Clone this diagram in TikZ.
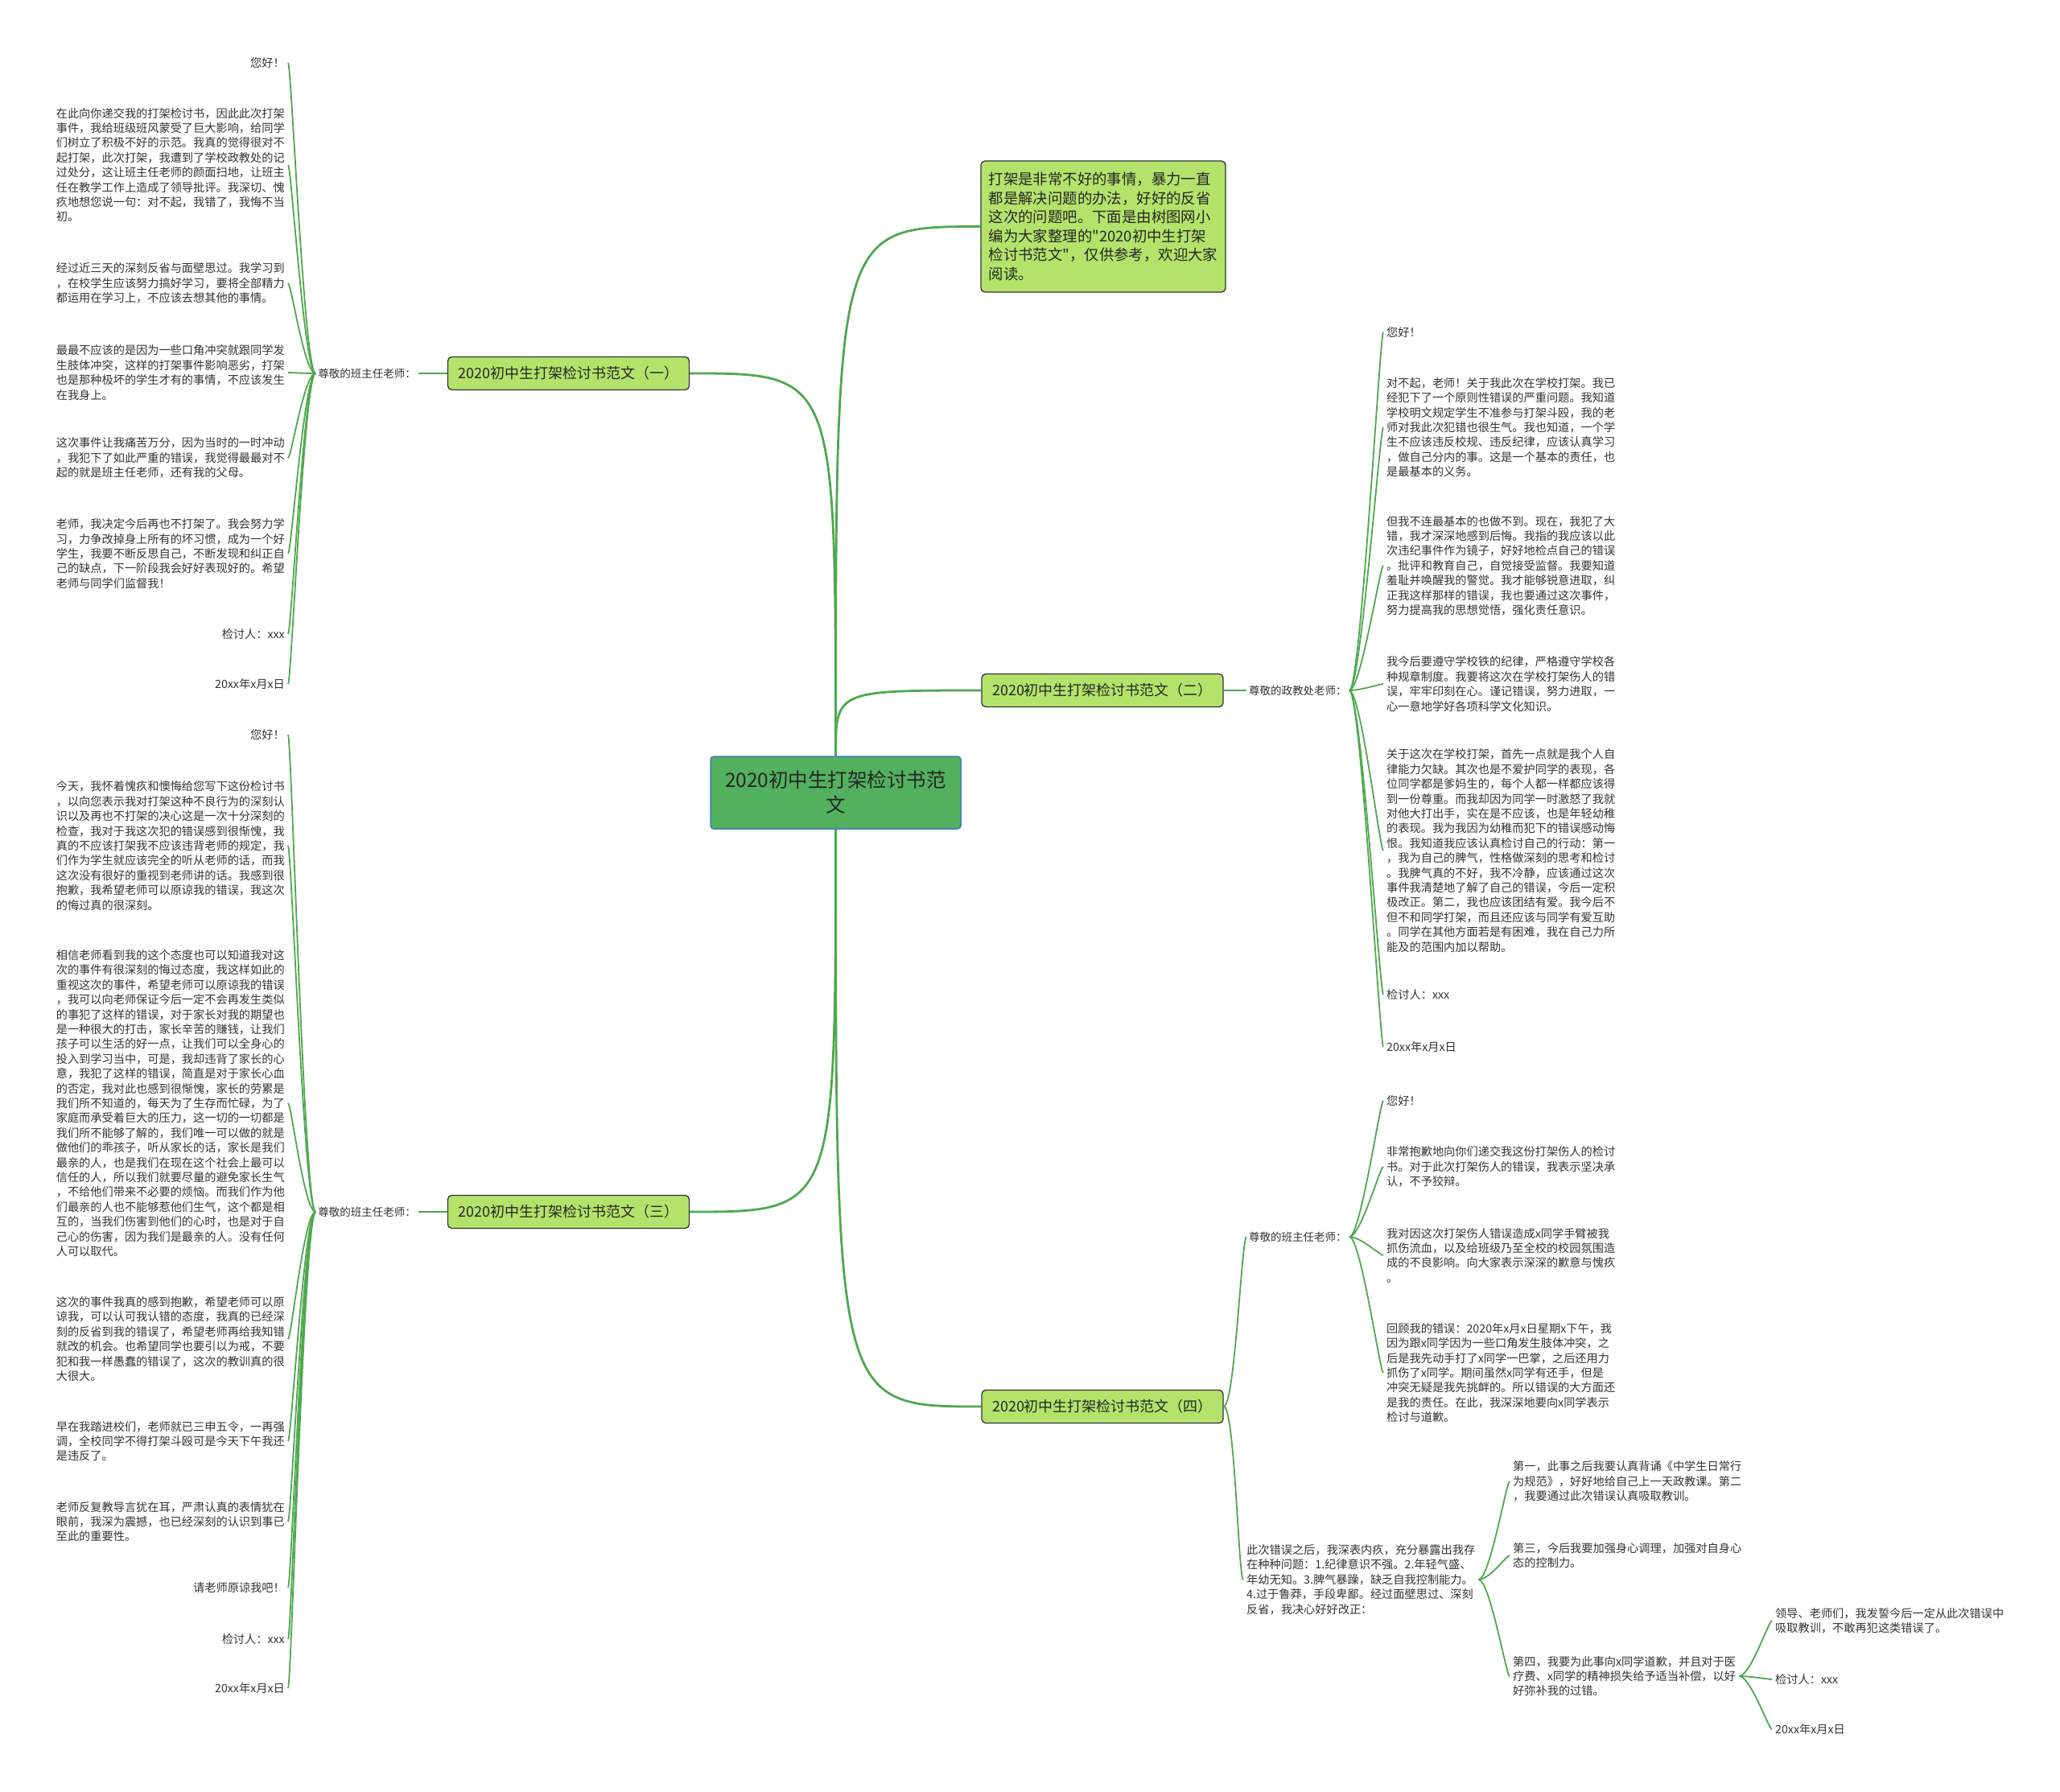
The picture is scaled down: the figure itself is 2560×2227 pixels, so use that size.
\documentclass[tikz,border=0pt]{standalone}
\usepackage{fontspec}
\setmainfont{Noto Sans CJK SC}[Ligatures=TeXOff]
\definecolor{twiggreen}{HTML}{4FA84F}
\definecolor{rootfill}{HTML}{52B05E}
\definecolor{rootline}{HTML}{3D7EC0}
\definecolor{leaffill}{HTML}{B4E36B}
\definecolor{inktext}{HTML}{333333}

\begin{document}
\begin{tikzpicture}[x=1pt,y=-1pt,
  root/.style={draw=rootline,line width=1.5pt,fill=rootfill,rounded corners=4pt,
    minimum width=311pt,minimum height=90pt,align=center,text=black!85,
    font=\fontsize{24.5}{31}\selectfont},
  topic/.style={draw=black!80,line width=1.3pt,fill=leaffill,rounded corners=5pt,
    minimum width=300pt,minimum height=41pt,text=black!85,
    font=\fontsize{18}{22}\selectfont},
  note/.style={draw=black!80,line width=1.3pt,fill=leaffill,rounded corners=5pt,
    minimum width=304pt,minimum height=163pt,align=left,text=black!85,
    font=\fontsize{18.4}{23.6}\selectfont},
  tag/.style={inner sep=3pt,text=inktext,font=\fontsize{13.5}{17}\selectfont},
  leaf/.style={inner xsep=4pt,inner ysep=2pt,align=left,text=inktext,
    font=\fontsize{14.2}{18.4}\selectfont},
  bough/.style={draw=twiggreen,line width=2.8pt},
  twig/.style={draw=twiggreen,line width=1.8pt}]
\fill[white] (0,0) rectangle (2560,2227);
\useasboundingbox (0,0) rectangle (2560,2227);

% 中心与四个分支
\node[root] (ctr) at (1038.5,985) {2020初中生打架检讨书范\\文};
\node[note] (intro) at (1371,281.5) {打架是非常不好的事情，暴力一直\\都是解决问题的办法，好好的反省\\这次的问题吧。下面是由树图网小\\编为大家整理的"2020初中生打架\\检讨书范文"，仅供参考，欢迎大家\\阅读。};
\node[topic] (b1) at (706.5,464) {2020初中生打架检讨书范文（一）};
\node[topic] (b2) at (1370,858) {2020初中生打架检讨书范文（二）};
\node[topic] (b3) at (706.5,1506) {2020初中生打架检讨书范文（三）};
\node[topic] (b4) at (1370,1748) {2020初中生打架检讨书范文（四）};

\draw[bough] (ctr.north) .. controls (ctr.north |- intro.west) .. (intro.west);
\draw[bough] (ctr.north) .. controls (ctr.north |- b1.east) .. (b1.east);
\draw[bough] (ctr.north) .. controls (ctr.north |- b2.west) .. (b2.west);
\draw[bough] (ctr.south) .. controls (ctr.south |- b3.east) .. (b3.east);
\draw[bough] (ctr.south) .. controls (ctr.south |- b4.west) .. (b4.west);

% 范文（一）
\node[tag,anchor=east] (l1) at (520,464) {尊敬的班主任老师：};
\node[leaf,anchor=east] (a1) at (358,78) {您好！};
\node[leaf,anchor=east] (a2) at (358,205) {在此向你递交我的打架检讨书，因此此次打架\\事件，我给班级班风蒙受了巨大影响，给同学\\们树立了积极不好的示范。我真的觉得很对不\\起打架，此次打架，我遭到了学校政教处的记\\过处分，这让班主任老师的颜面扫地，让班主\\任在教学工作上造成了领导批评。我深切、愧\\疚地想您说一句：对不起，我错了，我悔不当\\初。};
\node[leaf,anchor=east] (a3) at (358,352) {经过近三天的深刻反省与面壁思过。我学习到\\，在校学生应该努力搞好学习，要将全部精力\\都运用在学习上，不应该去想其他的事情。};
\node[leaf,anchor=east] (a4) at (358,463) {最最不应该的是因为一些口角冲突就跟同学发\\生肢体冲突，这样的打架事件影响恶劣，打架\\也是那种极坏的学生才有的事情，不应该发生\\在我身上。};
\node[leaf,anchor=east] (a5) at (358,569) {这次事件让我痛苦万分，因为当时的一时冲动\\，我犯下了如此严重的错误，我觉得最最对不\\起的就是班主任老师，还有我的父母。};
\node[leaf,anchor=east] (a6) at (358,688) {老师，我决定今后再也不打架了。我会努力学\\习，力争改掉身上所有的坏习惯，成为一个好\\学生，我要不断反思自己，不断发现和纠正自\\己的缺点，下一阶段我会好好表现好的。希望\\老师与同学们监督我！};
\node[leaf,anchor=east] (a7) at (358,788) {检讨人：xxx};
\node[leaf,anchor=east] (a8) at (358,850) {20xx年x月x日};
\draw[twig] (b1.west) -- (l1.east);
\foreach \n in {a1,a2,a3,a4,a5,a6,a7,a8}
  \draw[twig] (l1.west) .. controls +(-14,0) and +(4,0) .. (\n.east);

% 范文（二）
\node[tag,anchor=west] (l2) at (1549,858) {尊敬的政教处老师：};
\node[leaf,anchor=west] (d1) at (1719,413) {您好！};
\node[leaf,anchor=west] (d2) at (1719,531) {对不起，老师！关于我此次在学校打架。我已\\经犯下了一个原则性错误的严重问题。我知道\\学校明文规定学生不准参与打架斗殴，我的老\\师对我此次犯错也很生气。我也知道，一个学\\生不应该违反校规、违反纪律，应该认真学习\\，做自己分内的事。这是一个基本的责任，也\\是最基本的义务。};
\node[leaf,anchor=west] (d3) at (1719,703) {但我不连最基本的也做不到。现在，我犯了大\\错，我才深深地感到后悔。我指的我应该以此\\次违纪事件作为镜子，好好地检点自己的错误\\。批评和教育自己，自觉接受监督。我要知道\\羞耻并唤醒我的警觉。我才能够锐意进取，纠\\正我这样那样的错误，我也要通过这次事件，\\努力提高我的思想觉悟，强化责任意识。};
\node[leaf,anchor=west] (d4) at (1719,850) {我今后要遵守学校铁的纪律，严格遵守学校各\\种规章制度。我要将这次在学校打架伤人的错\\误，牢牢印刻在心。谨记错误，努力进取，一\\心一意地学好各项科学文化知识。};
\node[leaf,anchor=west] (d5) at (1719,1057) {关于这次在学校打架，首先一点就是我个人自\\律能力欠缺。其次也是不爱护同学的表现，各\\位同学都是爹妈生的，每个人都一样都应该得\\到一份尊重。而我却因为同学一时激怒了我就\\对他大打出手，实在是不应该，也是年轻幼稚\\的表现。我为我因为幼稚而犯下的错误感动悔\\恨。我知道我应该认真检讨自己的行动：第一\\，我为自己的脾气，性格做深刻的思考和检讨\\。我脾气真的不好，我不冷静，应该通过这次\\事件我清楚地了解了自己的错误，今后一定积\\极改正。第二，我也应该团结有爱。我今后不\\但不和同学打架，而且还应该与同学有爱互助\\。同学在其他方面若是有困难，我在自己力所\\能及的范围内加以帮助。};
\node[leaf,anchor=west] (d6) at (1719,1236) {检讨人：xxx};
\node[leaf,anchor=west] (d7) at (1719,1301) {20xx年x月x日};
\draw[twig] (b2.east) -- (l2.west);
\foreach \n in {d1,d2,d3,d4,d5,d6,d7}
  \draw[twig] (l2.east) .. controls +(14,0) and +(-4,0) .. (\n.west);

% 范文（三）
\node[tag,anchor=east] (l3) at (520,1506) {尊敬的班主任老师：};
\node[leaf,anchor=east] (c1) at (358,913) {您好！};
\node[leaf,anchor=east] (c2) at (358,1051) {今天，我怀着愧疚和懊悔给您写下这份检讨书\\，以向您表示我对打架这种不良行为的深刻认\\识以及再也不打架的决心这是一次十分深刻的\\检查，我对于我这次犯的错误感到很惭愧，我\\真的不应该打架我不应该违背老师的规定，我\\们作为学生就应该完全的听从老师的话，而我\\这次没有很好的重视到老师讲的话。我感到很\\抱歉，我希望老师可以原谅我的错误，我这次\\的悔过真的很深刻。};
\node[leaf,anchor=east] (c3) at (358,1371) {相信老师看到我的这个态度也可以知道我对这\\次的事件有很深刻的悔过态度，我这样如此的\\重视这次的事件，希望老师可以原谅我的错误\\，我可以向老师保证今后一定不会再发生类似\\的事犯了这样的错误，对于家长对我的期望也\\是一种很大的打击，家长辛苦的赚钱，让我们\\孩子可以生活的好一点，让我们可以全身心的\\投入到学习当中，可是，我却违背了家长的心\\意，我犯了这样的错误，简直是对于家长心血\\的否定，我对此也感到很惭愧，家长的劳累是\\我们所不知道的，每天为了生存而忙碌，为了\\家庭而承受着巨大的压力，这一切的一切都是\\我们所不能够了解的，我们唯一可以做的就是\\做他们的乖孩子，听从家长的话，家长是我们\\最亲的人，也是我们在现在这个社会上最可以\\信任的人，所以我们就要尽量的避免家长生气\\，不给他们带来不必要的烦恼。而我们作为他\\们最亲的人也不能够惹他们生气，这个都是相\\互的，当我们伤害到他们的心时，也是对于自\\己心的伤害，因为我们是最亲的人。没有任何\\人可以取代。};
\node[leaf,anchor=east] (c4) at (358,1664) {这次的事件我真的感到抱歉，希望老师可以原\\谅我，可以认可我认错的态度，我真的已经深\\刻的反省到我的错误了，希望老师再给我知错\\就改的机会。也希望同学也要引以为戒，不要\\犯和我一样愚蠢的错误了，这次的教训真的很\\大很大。};
\node[leaf,anchor=east] (c5) at (358,1791) {早在我踏进校们，老师就已三申五令，一再强\\调，全校同学不得打架斗殴可是今天下午我还\\是违反了。};
\node[leaf,anchor=east] (c6) at (358,1891) {老师反复教导言犹在耳，严肃认真的表情犹在\\眼前，我深为震撼，也已经深刻的认识到事已\\至此的重要性。};
\node[leaf,anchor=east] (c7) at (358,1973) {请老师原谅我吧！};
\node[leaf,anchor=east] (c8) at (358,2037) {检讨人：xxx};
\node[leaf,anchor=east] (c9) at (358,2098) {20xx年x月x日};
\draw[twig] (b3.west) -- (l3.east);
\foreach \n in {c1,c2,c3,c4,c5,c6,c7,c8,c9}
  \draw[twig] (l3.west) .. controls +(-14,0) and +(4,0) .. (\n.east);

% 范文（四）
\node[tag,anchor=west] (l4a) at (1549,1537) {尊敬的班主任老师：};
\node[leaf,anchor=west] (l4b) at (1545,1963) {此次错误之后，我深表内疚，充分暴露出我存\\在种种问题：1.纪律意识不强。2.年轻气盛、\\年幼无知。3.脾气暴躁，缺乏自我控制能力。\\4.过于鲁莽，手段卑鄙。经过面壁思过、深刻\\反省，我决心好好改正：};
\node[leaf,anchor=west] (e1) at (1719,1368) {您好！};
\node[leaf,anchor=west] (e2) at (1719,1450) {非常抱歉地向你们递交我这份打架伤人的检讨\\书。对于此次打架伤人的错误，我表示坚决承\\认，不予狡辩。};
\node[leaf,anchor=west] (e3) at (1719,1560) {我对因这次打架伤人错误造成x同学手臂被我\\抓伤流血，以及给班级乃至全校的校园氛围造\\成的不良影响。向大家表示深深的歉意与愧疚\\。};
\node[leaf,anchor=west] (e4) at (1719,1706) {回顾我的错误：2020年x月x日星期x下午，我\\因为跟x同学因为一些口角发生肢体冲突，之\\后是我先动手打了x同学一巴掌，之后还用力\\抓伤了x同学。期间虽然x同学有还手，但是\\冲突无疑是我先挑衅的。所以错误的大方面还\\是我的责任。在此，我深深地要向x同学表示\\检讨与道歉。};
\node[leaf,anchor=west] (f1) at (1876,1841) {第一，此事之后我要认真背诵《中学生日常行\\为规范》，好好地给自己上一天政教课。第二\\，我要通过此次错误认真吸取教训。};
\node[leaf,anchor=west] (f2) at (1876,1933) {第三，今后我要加强身心调理，加强对自身心\\态的控制力。};
\node[leaf,anchor=west] (f3) at (1876,2083) {第四，我要为此事向x同学道歉，并且对于医\\疗费、x同学的精神损失给予适当补偿，以好\\好弥补我的过错。};
\node[leaf,anchor=west] (g1) at (2202,2014) {领导、老师们，我发誓今后一定从此次错误中\\吸取教训，不敢再犯这类错误了。};
\node[leaf,anchor=west] (g2) at (2202,2087) {检讨人：xxx};
\node[leaf,anchor=west] (g3) at (2202,2149) {20xx年x月x日};
\draw[twig] (b4.east) .. controls +(14,0) and +(-6,0) .. (l4a.west);
\draw[twig] (b4.east) .. controls +(14,0) and +(-6,0) .. (l4b.west);
\foreach \n in {e1,e2,e3,e4}
  \draw[twig] (l4a.east) .. controls +(14,0) and +(-4,0) .. (\n.west);
\foreach \n in {f1,f2,f3}
  \draw[twig] (l4b.east) .. controls +(14,0) and +(-4,0) .. (\n.west);
\foreach \n in {g1,g2,g3}
  \draw[twig] (f3.east) .. controls +(14,0) and +(-4,0) .. (\n.west);
\end{tikzpicture}
\end{document}
